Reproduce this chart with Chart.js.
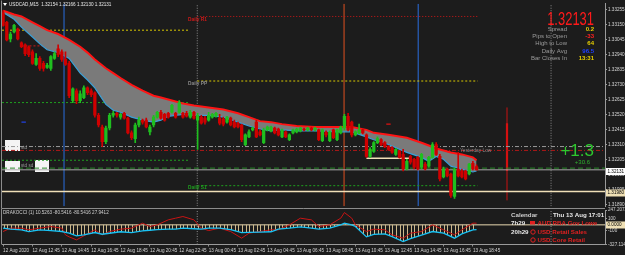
<!DOCTYPE html>
<html>
<head>
<meta charset="utf-8">
<title>USDCAD M15</title>
<script src="https://cdn.jsdelivr.net/npm/chart.js@4.4.1/dist/chart.umd.min.js"></script>
<style>
  html, body { margin: 0; padding: 0; background: #1c1c1c; overflow: hidden; }
  #wrap { position: relative; width: 625px; height: 255px; }
  canvas { position: absolute; left: 0; }
  #priceChart { top: 0; }
  #cciChart { top: 199px; }
</style>
</head>
<body>
<div id="wrap">
  <canvas id="priceChart" width="625" height="210"></canvas>
  <canvas id="cciChart" width="625" height="56"></canvas>
</div>
<script>
// ---- time axis (bar index -> label) ----
const timeIdx = [0, 8, 16, 24, 32, 40, 48, 56, 64, 72, 80, 88, 96, 104, 112, 120, 128];
const timeLabels = ['12 Aug 2020', '12 Aug 12:45', '12 Aug 14:45', '12 Aug 16:45', '12 Aug 18:45',
  '12 Aug 20:45', '12 Aug 22:45', '13 Aug 00:45', '13 Aug 02:45', '13 Aug 04:45', '13 Aug 06:45',
  '13 Aug 08:45', '13 Aug 10:45', '13 Aug 12:45', '13 Aug 14:45', '13 Aug 16:45', '13 Aug 18:45'];

const priceTicks = [1.33255, 1.33150, 1.33045, 1.32940, 1.32835, 1.32730, 1.32625, 1.32520,
  1.32415, 1.32310, 1.32205, 1.32100, 1.31995, 1.31890];

// ---- M15 candles, one per bar ----
const opens = [
  1.33233, 1.33164, 1.33048, 1.33096, 1.33116, 1.33020, 1.33006, 1.32993, 1.32958, 1.32869,
  1.32911, 1.32876, 1.32849, 1.32842, 1.32911, 1.32979, 1.32958, 1.32904, 1.32876, 1.32616,
  1.32685, 1.32616, 1.32637, 1.32705, 1.32685, 1.32671, 1.32513, 1.32431, 1.32328, 1.32424,
  1.32513, 1.32527, 1.32500, 1.32527, 1.32493, 1.32390, 1.32349, 1.32445, 1.32479, 1.32479,
  1.32397, 1.32445, 1.32500, 1.32534, 1.32520, 1.32527, 1.32534, 1.32527, 1.32534, 1.32527,
  1.32527, 1.32500, 1.32534, 1.32479, 1.32500, 1.32493, 1.32479, 1.32500, 1.32506, 1.32493,
  1.32486, 1.32465, 1.32493, 1.32465, 1.32458, 1.32445, 1.32308, 1.32362, 1.32411, 1.32465,
  1.32397, 1.32321, 1.32411, 1.32404, 1.32424, 1.32417, 1.32362, 1.32397, 1.32342, 1.32390,
  1.32397, 1.32404, 1.32417, 1.32411, 1.32424, 1.32411, 1.32411, 1.32335, 1.32397, 1.32335,
  1.32411, 1.32342, 1.32390, 1.32424, 1.32506, 1.32465, 1.32376, 1.32390, 1.32411, 1.32376,
  1.32225, 1.32260, 1.32321, 1.32342, 1.32321, 1.32294, 1.32287, 1.32239, 1.32260, 1.32239,
  1.32137, 1.32225, 1.32205, 1.32218, 1.32150, 1.32171, 1.32157, 1.32218, 1.32308, 1.32225,
  1.32082, 1.32137, 1.32102, 1.31945, 1.32137, 1.32123, 1.32123, 1.32102, 1.32177, 1.32154];
const highs = [
  1.33246, 1.33171, 1.33096, 1.33150, 1.33123, 1.33027, 1.33013, 1.32999, 1.32972, 1.32945,
  1.32924, 1.32890, 1.32876, 1.32931, 1.32958, 1.33006, 1.32972, 1.32958, 1.32890, 1.32705,
  1.32698, 1.32685, 1.32719, 1.32712, 1.32698, 1.32678, 1.32527, 1.32445, 1.32438, 1.32527,
  1.32541, 1.32534, 1.32527, 1.32534, 1.32500, 1.32404, 1.32458, 1.32500, 1.32486, 1.32493,
  1.32445, 1.32513, 1.32541, 1.32548, 1.32527, 1.32534, 1.32589, 1.32534, 1.32616, 1.32534,
  1.32541, 1.32548, 1.32541, 1.32527, 1.32513, 1.32506, 1.32534, 1.32527, 1.32534, 1.32520,
  1.32500, 1.32506, 1.32500, 1.32479, 1.32465, 1.32451, 1.32383, 1.32411, 1.32431, 1.32479,
  1.32411, 1.32424, 1.32438, 1.32438, 1.32431, 1.32424, 1.32417, 1.32404, 1.32383, 1.32417,
  1.32424, 1.32431, 1.32424, 1.32431, 1.32431, 1.32431, 1.32417, 1.32417, 1.32404, 1.32404,
  1.32417, 1.32417, 1.32438, 1.32520, 1.32527, 1.32472, 1.32404, 1.32451, 1.32417, 1.32383,
  1.32287, 1.32328, 1.32362, 1.32349, 1.32328, 1.32301, 1.32294, 1.32280, 1.32267, 1.32274,
  1.32205, 1.32232, 1.32212, 1.32225, 1.32246, 1.32184, 1.32225, 1.32321, 1.32321, 1.32239,
  1.32150, 1.32143, 1.32109, 1.32143, 1.32253, 1.32137, 1.32130, 1.32177, 1.32191, 1.32166];
const lows = [
  1.33137, 1.33034, 1.33027, 1.33089, 1.33041, 1.32986, 1.32931, 1.32924, 1.32869, 1.32863,
  1.32828, 1.32822, 1.32842, 1.32828, 1.32904, 1.32924, 1.32890, 1.32863, 1.32637, 1.32602,
  1.32595, 1.32602, 1.32630, 1.32657, 1.32643, 1.32500, 1.32431, 1.32294, 1.32314, 1.32411,
  1.32500, 1.32500, 1.32486, 1.32486, 1.32383, 1.32342, 1.32321, 1.32431, 1.32451, 1.32424,
  1.32376, 1.32431, 1.32493, 1.32486, 1.32472, 1.32493, 1.32527, 1.32493, 1.32527, 1.32493,
  1.32500, 1.32493, 1.32486, 1.32274, 1.32451, 1.32451, 1.32472, 1.32493, 1.32500, 1.32445,
  1.32438, 1.32458, 1.32438, 1.32424, 1.32424, 1.32328, 1.32301, 1.32356, 1.32404, 1.32356,
  1.32369, 1.32314, 1.32404, 1.32397, 1.32383, 1.32369, 1.32356, 1.32356, 1.32335, 1.32383,
  1.32390, 1.32397, 1.32404, 1.32404, 1.32404, 1.32404, 1.32335, 1.32328, 1.32362, 1.32328,
  1.32349, 1.32335, 1.32383, 1.32411, 1.32404, 1.32362, 1.32369, 1.32383, 1.32383, 1.32218,
  1.32218, 1.32253, 1.32314, 1.32301, 1.32287, 1.32267, 1.32246, 1.32232, 1.32212, 1.32123,
  1.32130, 1.32171, 1.32137, 1.32130, 1.32137, 1.32130, 1.32150, 1.32212, 1.32232, 1.32054,
  1.32075, 1.32082, 1.31938, 1.31931, 1.32082, 1.32075, 1.32061, 1.32095, 1.32130, 1.32130];
const closes = [
  1.33143, 1.33041, 1.33082, 1.33143, 1.33048, 1.32993, 1.32945, 1.32938, 1.32876, 1.32911,
  1.32842, 1.32842, 1.32863, 1.32924, 1.32945, 1.32938, 1.32904, 1.32869, 1.32650, 1.32698,
  1.32616, 1.32664, 1.32705, 1.32671, 1.32657, 1.32513, 1.32445, 1.32328, 1.32424, 1.32513,
  1.32527, 1.32513, 1.32520, 1.32493, 1.32390, 1.32356, 1.32445, 1.32479, 1.32465, 1.32431,
  1.32431, 1.32500, 1.32534, 1.32493, 1.32479, 1.32500, 1.32582, 1.32500, 1.32602, 1.32500,
  1.32506, 1.32534, 1.32493, 1.32513, 1.32458, 1.32465, 1.32513, 1.32520, 1.32527, 1.32458,
  1.32451, 1.32500, 1.32445, 1.32431, 1.32431, 1.32342, 1.32376, 1.32397, 1.32424, 1.32362,
  1.32376, 1.32411, 1.32431, 1.32431, 1.32390, 1.32376, 1.32411, 1.32362, 1.32376, 1.32411,
  1.32417, 1.32424, 1.32411, 1.32424, 1.32411, 1.32424, 1.32342, 1.32411, 1.32376, 1.32397,
  1.32356, 1.32411, 1.32431, 1.32506, 1.32411, 1.32376, 1.32397, 1.32411, 1.32390, 1.32225,
  1.32274, 1.32321, 1.32349, 1.32308, 1.32294, 1.32274, 1.32253, 1.32274, 1.32218, 1.32137,
  1.32191, 1.32184, 1.32150, 1.32137, 1.32239, 1.32137, 1.32218, 1.32308, 1.32239, 1.32068,
  1.32137, 1.32089, 1.31952, 1.32137, 1.32089, 1.32082, 1.32068, 1.32171, 1.32137, 1.32131];

// ---- envelope band (read at these bar indices) ----
const envIdx = [0, 3, 5, 8, 10, 12, 15, 18, 21, 23, 25, 28, 30, 32, 35, 38, 41, 43, 45, 49, 52, 56,
  60, 64, 67, 70, 73, 76, 80, 85, 91, 95, 99, 101, 105, 110, 114, 116, 118, 120, 122, 125, 128, 129];
const envUpper = [1.33246, 1.33219, 1.33205, 1.33164, 1.33137, 1.33109, 1.33082, 1.33041, 1.32993,
  1.32952, 1.32904, 1.32842, 1.32808, 1.32774, 1.32726, 1.32685, 1.32650, 1.32637, 1.32623, 1.32595,
  1.32582, 1.32568, 1.32554, 1.32527, 1.32500, 1.32472, 1.32465, 1.32451, 1.32438, 1.32431, 1.32431,
  1.32431, 1.32411, 1.32390, 1.32376, 1.32356, 1.32321, 1.32301, 1.32280, 1.32267, 1.32253, 1.32239,
  1.32218, 1.32198];
const envLower = [1.33233, 1.33185, 1.33130, 1.33061, 1.33013, 1.32972, 1.32952, 1.32911, 1.32808,
  1.32760, 1.32705, 1.32589, 1.32548, 1.32534, 1.32500, 1.32479, 1.32465, 1.32479, 1.32506, 1.32520,
  1.32513, 1.32513, 1.32500, 1.32465, 1.32438, 1.32417, 1.32404, 1.32411, 1.32404, 1.32404, 1.32397,
  1.32397, 1.32362, 1.32342, 1.32308, 1.32253, 1.32218, 1.32191, 1.32225, 1.32205, 1.32157, 1.32137,
  1.32116, 1.32123];

// ---- horizontal levels: price, first bar, last bar ----
const levelPrice = [1.33205, 1.33109, 1.32753, 1.32999, 1.32602, 1.32294, 1.32267, 1.32198, 1.32143,
  1.32131, 1.31979, 1.32020, 1.32212];
const levelFrom = [52.9, -0.3, 52.9, 5, -0.3, -0.3, -0.3, -0.3, -0.3, -0.3, -0.3, 52.9, 99];
const levelTo = [129.3, 50.4, 129.3, 16, 50.4, 164, 164, 50.4, 164, 164, 164, 129.3, 111.4];

// ---- vertical markers (bar index) ----
const vlineIdx = [16.6, 92.9, 113.1];
const sepIdx = [52.9, 149.3];
const rangeIdx = 137.3;
const rangeThin = [1.31917, 1.32568];
const rangeThick = [1.32123, 1.32458];

// ---- CCI sub window ----
const cciIdx = [0, 2, 5, 7, 10, 13, 16, 17, 18, 20, 22, 25, 27, 29, 32, 35, 38, 40, 42, 45, 47, 49,
  52, 54, 56, 59, 62, 65, 67, 70, 73, 75, 78, 81, 84, 86, 89, 92, 93, 95, 96, 99, 101, 104, 106,
  109, 111, 114, 117, 120, 123, 125, 128, 129];
const cciRed = [-111, -55, -55, -83, -55, -28, -55, -167, -200, -250, -184, -83, -167, -111, -72,
  -55, 28, -28, 0, 83, 111, 139, 83, -55, -95, -55, -111, -222, -139, -111, -83, -83, 0, 111, 83,
  -28, 0, 111, 205, 111, 0, -111, -72, -83, -167, -222, -139, -111, 0, -83, -167, -83, 28, 27.9];
const cciCyan = [-55, -72, -83, -111, -83, -95, -111, -125, -139, -184, -167, -128, -156, -140,
  -115, -128, -100, -90, -80, -72, -72, -55, -65, -72, -55, -55, -80, -130, -125, -120, -115, -70,
  -55, -35, -55, -72, -55, 0, 28, 0, -28, -200, -160, -150, -195, -278, -230, -170, -111, -139,
  -222, -150, -83, -80.5];
const cciTicks = [247.2072, 100, 0, -100, -327.1146];
const cciTickText = ['247.2072', '100', '0.0000', '-100', '-327.1146'];

// ---- styles ----
const X_MIN = -0.3, X_MAX = 164;
const P_MIN = 1.31876, P_MAX = 1.33294;
const C_MIN = -327.1146, C_MAX = 247.2072;
const BULL = '#1fbf1f', BEAR = '#d00000';
const levelColor = ['#d01818', '#d8c800', '#d8c800', '#d01818', '#1fa01f', '#9a9a9a', '#b01818',
  '#1fa01f', '#2a8a2a', '#a8a8a8', '#f0e0b8', '#1fa01f', '#f0e0b8'];
const levelDash = [[1, 2], [2, 2], [2, 2], [2, 2], [2, 2], [4, 2, 1, 2], [4, 2, 1, 2], [2, 2], [5, 3],
  [], [], [2, 2], []];
const levelWidth = [1, 1, 1, 1, 1, 1, 1, 1, 1, 1, 1.6, 1, 1.3];
const vlineColor = ['#2a6ee0', '#e05020', '#2a6ee0'];

Chart.defaults.font.family = '"Liberation Sans", Arial, sans-serif';
Chart.defaults.elements.point.radius = 0;

function txt(c, s, x, y, color, size, align, weight) {
  c.font = (weight || 'normal') + ' ' + size + 'px "Liberation Sans", Arial, sans-serif';
  c.fillStyle = color;
  c.textAlign = align || 'left';
  c.textBaseline = 'middle';
  c.fillText(s, x, y);
}

const candleColor = ctx => closes[ctx.dataIndex] >= opens[ctx.dataIndex] ? BULL : BEAR;

const levelSets = levelPrice.map((p, k) => ({
  type: 'line',
  data: [{ x: levelFrom[k], y: p }, { x: levelTo[k], y: p }],
  borderColor: levelColor[k], borderDash: levelDash[k], borderWidth: levelWidth[k], order: 4
}));
const vlineSets = vlineIdx.map((v, k) => ({
  type: 'line',
  data: [{ x: v, y: P_MIN }, { x: v, y: P_MAX }],
  borderColor: vlineColor[k], borderWidth: 1, order: 4
}));
const sepSets = sepIdx.map(v => ({
  type: 'line',
  data: [{ x: v, y: P_MIN }, { x: v, y: P_MAX }],
  borderColor: '#8c8c8c', borderDash: [1, 1.5], borderWidth: 1, order: 5
}));

const priceHud = {
  id: 'priceHud',
  beforeDatasetsDraw(chart) {
    const c = chart.ctx;
    c.save();
    c.fillStyle = '#f4f4f4';
    c.fillRect(5, 140, 15, 11);
    c.fillRect(5, 161, 15, 11);
    c.fillRect(35, 160, 14, 12);
    c.restore();
    txt(c, 'std', 21, 148, '#9a9a9a', 4.6);
    txt(c, 'std sd', 21, 166, '#9a9a9a', 4.6);
  },
  afterDraw(chart) {
    const c = chart.ctx;
    const y = chart.scales.y;
    c.save();
    // frame
    c.strokeStyle = '#8c8c8c';
    c.lineWidth = 1;
    c.beginPath();
    c.moveTo(1.5, 0.5); c.lineTo(1.5, 208.5); c.lineTo(605, 208.5);
    c.stroke();
    // title
    c.fillStyle = '#ffffff';
    c.beginPath(); c.moveTo(3, 3); c.lineTo(7, 3); c.lineTo(5, 6); c.closePath(); c.fill();
    txt(c, 'USDCAD,M15  1.32154 1.32166 1.32130 1.32131', 9, 5, '#e8e8e8', 4.6);
    // pivot labels
    txt(c, 'Daily R1', 188, y.getPixelForValue(1.33205) + 3, '#d01818', 4.8, 'left', 'bold');
    txt(c, 'Daily PP', 188, y.getPixelForValue(1.32753) + 3, '#8a8a8a', 4.8, 'left', 'bold');
    txt(c, 'Daily S1', 188, y.getPixelForValue(1.32020) + 2.5, '#1fa01f', 4.8, 'left', 'bold');
    txt(c, 'Yesterday Low', 460, 151, '#8a8a8a', 4.8);
    // big price
    c.save();
    c.translate(594, 20.5);
    c.scale(0.72, 1);
    txt(c, '1.32131', 0, 0, '#ff1a1a', 18, 'right');
    c.restore();
    const rowsY = [29.3, 36, 43.3, 51, 58.3];
    const rowName = ['Spread', 'Pips to Open', 'High to Low', 'Daily Avg', 'Bar Closes In'];
    const rowVal = ['0.2', '-33', '64', '96.5', '13:31'];
    const rowCol = ['#e8d000', '#ff2020', '#e8d000', '#2040ff', '#e8d000'];
    rowsY.forEach((ry, k) => {
      txt(c, rowName[k], 567, ry, '#9c9c9c', 6, 'right');
      txt(c, rowVal[k], 594, ry, rowCol[k], 6, 'right', 'bold');
    });
    // pips gained
    txt(c, '+1.3', 594, 151.5, '#2ec82e', 17, 'right');
    txt(c, '+30.6', 590, 162, '#2eb02e', 6, 'right');
    // price axis markers
    c.fillStyle = '#ffffff';
    c.fillRect(606, 168, 19, 7);
    txt(c, '1.32131', 607.5, 171.5, '#000000', 4.6);
    c.fillStyle = '#efe0b5';
    c.fillRect(606, 189.5, 19, 7);
    txt(c, '1.31980', 607.5, 193, '#000000', 4.6);
    c.restore();
  }
};

new Chart(document.getElementById('priceChart'), {
  type: 'bar',
  data: {
    datasets: [
      {
        type: 'bar',
        data: opens.map((o, i) => ({ x: i, y: [o, closes[i]] })),
        backgroundColor: candleColor, barThickness: 2.6, grouped: false, order: 0
      },
      {
        type: 'bar',
        data: opens.map((o, i) => ({ x: i, y: [lows[i], highs[i]] })),
        backgroundColor: candleColor, barThickness: 1, grouped: false, order: 1
      },
      {
        type: 'line',
        data: envIdx.map((v, k) => ({ x: v, y: envUpper[k] })),
        borderColor: '#ff1414', borderWidth: 2, order: 2
      },
      {
        type: 'line',
        data: envIdx.map((v, k) => ({ x: v, y: envLower[k] })),
        borderColor: '#3a9fd6', borderWidth: 1.2, fill: '-1', backgroundColor: '#7a7a7a', order: 3
      },
      ...levelSets,
      ...vlineSets,
      ...sepSets,
      {
        type: 'line',
        data: [{ x: rangeIdx, y: rangeThin[0] }, { x: rangeIdx, y: rangeThin[1] }],
        borderColor: '#c81010', borderWidth: 1, order: 4
      },
      {
        type: 'line',
        data: [{ x: rangeIdx, y: rangeThick[0] }, { x: rangeIdx, y: rangeThick[1] }],
        borderColor: '#e01010', borderWidth: 2.2, order: 4
      },
      {
        type: 'line',
        data: [{ x: 104.4, y: 1.32451 }, { x: 105.6, y: 1.32451 }],
        borderColor: '#e01010', borderWidth: 1.2, order: 4
      },
      {
        type: 'line',
        data: [{ x: 5, y: 1.32465 }, { x: 6.2, y: 1.32465 }],
        borderColor: '#2040e0', borderWidth: 1.2, order: 4
      }
    ]
  },
  options: {
    responsive: false,
    animation: false,
    events: [],
    layout: { padding: { left: 2, top: 1, right: 0, bottom: 2 } },
    plugins: { legend: { display: false }, tooltip: { enabled: false } },
    scales: {
      x: { type: 'linear', min: X_MIN, max: X_MAX, offset: false, display: false },
      y: {
        position: 'right', min: P_MIN, max: P_MAX,
        afterFit: s => { s.width = 20; },
        afterBuildTicks: s => { s.ticks = priceTicks.map(v => ({ value: v })); },
        ticks: { color: '#d6d6d6', font: { size: 4.6 }, padding: 1, autoSkip: false, callback: v => v.toFixed(5) },
        grid: { drawOnChartArea: false, tickLength: 2, color: '#9a9a9a' },
        border: { color: '#9a9a9a' }
      }
    }
  },
  plugins: [priceHud]
});

// ---- CCI window ----
const stripe = document.createElement('canvas');
stripe.width = 11; stripe.height = 1;
const sg = stripe.getContext('2d');
sg.fillStyle = '#cdb98c';
[0, 4, 7].forEach(x => sg.fillRect(x, 0, 1, 1));
const histFill = sg.createPattern(stripe, 'repeat');

const cciHud = {
  id: 'cciHud',
  afterDraw(chart) {
    const c = chart.ctx;
    c.save();
    c.strokeStyle = '#8c8c8c';
    c.beginPath(); c.moveTo(1.5, 10); c.lineTo(1.5, 45.5); c.stroke();
    txt(c, 'DRAKOCCI (1) 10.5263 -80.5416 -80.5416 27.9412', 3, 14, '#d0d0d0', 4.6);
    txt(c, 'Calendar', 511, 16, '#cfcfcf', 6.2, 'left', 'bold');
    txt(c, 'Thu 13 Aug 17:01', 553, 16, '#e6e6e6', 6.2, 'left', 'bold');
    txt(c, '7h29', 511, 24, '#e6e6e6', 6.2, 'left', 'bold');
    txt(c, '20h29', 511, 32.8, '#e6e6e6', 6.2, 'left', 'bold');
    const evY = [24, 33, 41];
    const evName = ['AUD RBA Gov Lowe', 'USD Retail Sales', 'USD Core Retail'];
    evY.forEach((ey, k) => {
      c.fillStyle = '#e02020';
      if (k === 0) {
        c.fillRect(530, ey - 2, 5, 3.5);
      } else {
        c.strokeStyle = '#e02020';
        c.beginPath(); c.arc(533, ey, 2.2, 0, Math.PI * 2); c.stroke();
      }
      txt(c, evName[k], 537.5, ey, '#e02020', 6.2, 'left', 'bold');
    });
    c.fillStyle = '#efe0b5';
    c.fillRect(606, 22.5, 19, 7);
    txt(c, '0.0000', 607.5, 26, '#000000', 4.6);
    c.restore();
  }
};

const cciPts = vals => cciIdx.map((v, k) => ({ x: v, y: vals[k] }));

new Chart(document.getElementById('cciChart'), {
  type: 'line',
  data: {
    datasets: [
      { data: cciPts(cciCyan), borderColor: 'rgba(0,0,0,0)', fill: 'origin', backgroundColor: histFill, order: 3 },
      { data: cciPts(cciCyan), borderColor: '#19c3f5', borderWidth: 1.3, order: 0 },
      { data: cciPts(cciRed), borderColor: '#c81414', borderWidth: 1, order: 1 },
      { data: [{ x: X_MIN, y: 0 }, { x: X_MAX, y: 0 }], borderColor: '#e8d8b0', borderWidth: 1, order: 4 },
      ...sepIdx.map(v => ({
        data: [{ x: v, y: C_MIN }, { x: v, y: C_MAX }],
        borderColor: '#8c8c8c', borderDash: [1, 1.5], borderWidth: 1, order: 5
      }))
    ]
  },
  options: {
    responsive: false,
    animation: false,
    events: [],
    layout: { padding: { left: 2, top: 11, right: 0, bottom: 0 } },
    plugins: { legend: { display: false }, tooltip: { enabled: false } },
    scales: {
      x: {
        type: 'linear', min: X_MIN, max: X_MAX, offset: false,
        afterBuildTicks: s => { s.ticks = timeIdx.map(v => ({ value: v })); },
        afterFit: s => { s.height = 10.5; },
        ticks: {
          color: '#d6d6d6', font: { size: 4.6 }, padding: 1, align: 'start', autoSkip: false,
          maxRotation: 0, minRotation: 0, callback: (v, i) => timeLabels[i]
        },
        grid: { drawOnChartArea: false, tickLength: 2, color: '#8a8a8a' },
        border: { color: '#9a9a9a' }
      },
      y: {
        position: 'right', min: C_MIN, max: C_MAX,
        afterFit: s => { s.width = 20; },
        afterBuildTicks: s => { s.ticks = cciTicks.map(v => ({ value: v })); },
        ticks: { color: '#d6d6d6', font: { size: 4.6 }, padding: 1, autoSkip: false, callback: (v, i) => cciTickText[i] },
        grid: { drawOnChartArea: false, tickLength: 2, color: '#9a9a9a' },
        border: { color: '#9a9a9a' }
      }
    }
  },
  plugins: [cciHud]
});
</script>
</body>
</html>
